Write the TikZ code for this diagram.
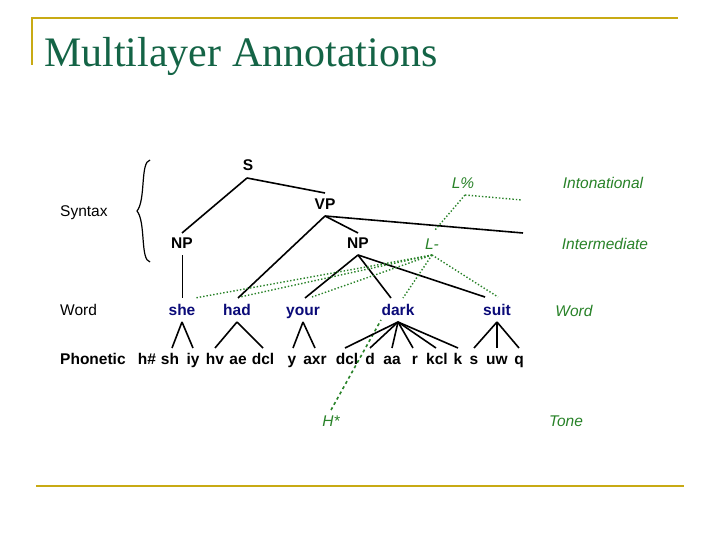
\documentclass[tikz,border=0pt]{standalone}
\usepackage{fontspec}
\setmainfont{Liberation Serif}
\setsansfont{Liberation Sans}
\begin{document}
\begin{tikzpicture}[x=1pt,y=-1pt,
  lab/.style={font=\sffamily\fontsize{15.5}{15}\selectfont,inner sep=0pt,anchor=base west},
  cat/.style={font=\sffamily\bfseries\fontsize{15.5}{15}\selectfont,inner sep=0pt,anchor=base},
  wd/.style={font=\sffamily\bfseries\fontsize{15.5}{15}\selectfont,text=wblue,inner sep=0pt,anchor=base},
  ph/.style={font=\sffamily\bfseries\fontsize{15.5}{15}\selectfont,inner sep=0pt,anchor=base},
  gr/.style={font=\sffamily\itshape\fontsize{15.5}{15}\selectfont,text=tgreen,inner sep=0pt,anchor=base},
  br/.style={line width=1.6pt},
  th/.style={line width=1pt},
  dot/.style={tgreen,line width=1.4pt,dotted},
  gold/.style={line width=2pt,draw=goldc}]
\definecolor{wblue}{RGB}{10,10,120}
\definecolor{tgreen}{RGB}{40,130,40}
\definecolor{goldc}{RGB}{200,170,20}
\definecolor{titlec}{RGB}{20,100,70}
\useasboundingbox (0,0) rectangle (720,540);
\fill[white] (0,0) rectangle (720,540);
\draw[gold] (32,65) -- (32,18) -- (678,18);
\draw[gold] (36,486) -- (684,486);
\node[anchor=base west,inner sep=0pt,text=titlec,font=\fontsize{42}{42}\selectfont] (title) at (44,67) {Multilayer Annotations};
% labels
\node[lab] (syn) at (60,216) {Syntax};
\node[lab] (wl) at (60,315) {Word};
\node[ph,anchor=base west] (phl) at (60,364) {Phonetic};
\draw[line width=1.2pt] (150,160) .. controls (140,162) and (146,200) .. (137,211) .. controls (146,222) and (140,260) .. (150,262);
% syntax
\node[cat] (S) at (248,171) {S};
\node[cat] (VP) at (325,210) {VP};
\node[cat] (NP1) at (182,248) {NP};
\node[cat] (NP2) at (358,248) {NP};
\coordinate (Send) at (523,233);
\node[gr] (Lp) at (463,189) {L\%};
\node[gr] (Lm) at (432,249) {L-};
\node[gr] (into) at (603,189) {Intonational};
\node[gr] (inter) at (605,249) {Intermediate};
\node[gr] (gw) at (574,316) {Word};
\node[gr] (tone) at (566,426) {Tone};
\node[gr] (H) at (331,426) {H*};
% words
\node[wd] (she) at (182,315) {she};
\node[wd] (had) at (237,315) {had};
\node[wd] (your) at (303,315) {your};
\node[wd] (dark) at (398,315) {dark};
\node[wd] (suit) at (497,315) {suit};
% phones
\foreach \n/\t/\x in {p1/h\#/147,p2/sh/170,p3/iy/193,p4/hv/215,p5/ae/238,p6/dcl/263,p7/y/292,p8/axr/315,p9/dcl/347,p10/d/370,p11/aa/392,p12/r/415,p13/kcl/437,p14/k/458,p15/s/474,p16/uw/497,p17/q/519}
  \node[ph] (\n) at (\x,364) {\t};
% syntax lines
\draw[br] (247,178) -- (182,233);
\draw[br] (247,178) -- (325,193);
\draw[br] (325,216) -- (238,298);
\draw[br] (325,216) -- (358,233);
\draw[br] (325,216) -- (Send);
\draw[br] (358,255) -- (305,298);
\draw[br] (358,255) -- (391,298);
\draw[br] (358,255) -- (485,297);
\draw[th] (182,255) -- (182,298);
% intonation
\draw[dot] (465,195) -- (522,200);
\draw[dot] (465,195) -- (435,230);
\draw[dot] (432,255) -- (195,298);
\draw[dot] (432,255) -- (240,297);
\draw[dot] (432,255) -- (312,297);
\draw[dot] (432,255) -- (403,298);
\draw[dot] (432,255) -- (498,297);
\draw[tgreen,line width=1.6pt,dash pattern=on 3pt off 3pt] (331,410) -- (381,320);
% phonetic links
\foreach \a/\b in {172/she,193/she,215/had,263/had,293/your,315/your,345/dark,370/dark,392/dark,413/dark,436/dark,458/dark,474/suit,497/suit,519/suit}
  \draw[br] (\b.base) ++(0,7) -- (\a,348);
\end{tikzpicture}
\end{document}
